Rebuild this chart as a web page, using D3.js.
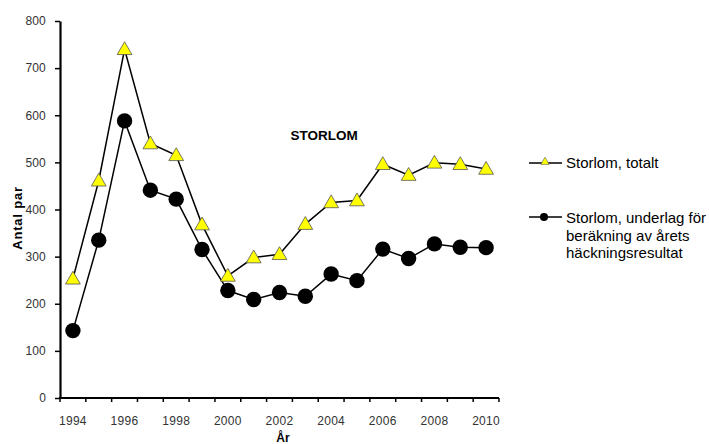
<!DOCTYPE html>
<html><head><meta charset="utf-8">
<script src="https://cdn.jsdelivr.net/npm/d3@7"></script>
<style>body{margin:0;background:#fff}svg{font-family:"Liberation Sans",Arial,sans-serif}</style>
</head><body><svg id="c" width="709" height="444"></svg>
<script>
const years = [1994,1995,1996,1997,1998,1999,2000,2001,2002,2003,2004,2005,2006,2007,2008,2009,2010];
const totalt = [253,461,740,540,515,368,259,298,305,369,415,419,496,473,499,496,486];
const underlag = [143,335,588,441,422,315,228,209,224,216,263,249,316,296,327,320,319];
const yTicks = [0,100,200,300,400,500,600,700,800];
const xTickLabels = [1994,1996,1998,2000,2002,2004,2006,2008,2010];
const seriesNames = ["Storlom, totalt", "Storlom, underlag för|beräkning av årets|häckningsresultat"];

const svg = d3.select("#c");
const x = d3.scaleBand().domain(years).range([60,499]).padding(0);
const y = d3.scaleLinear().domain([0,800]).range([398,21]);

// y axis
const ya = svg.append("g").attr("transform","translate(60,0)")
  .call(d3.axisLeft(y).tickValues(yTicks).tickSize(5).tickSizeOuter(0).tickPadding(9));
ya.select(".domain").attr("stroke","#000").attr("stroke-width",2.2);
ya.selectAll(".tick line").attr("stroke","#000").attr("stroke-width",1.5);
ya.selectAll(".tick text").attr("font-size",12).attr("fill","#333").attr("font-family","Liberation Sans, Arial").attr("letter-spacing",0.2);

// x axis
const boundaries = years.map(d=>x(d)).concat([x(years[years.length-1])+x.bandwidth()]);
const xa = svg.append("g");
xa.append("line").attr("x1",59).attr("x2",499).attr("y1",y(0)).attr("y2",y(0)).attr("stroke","#000").attr("stroke-width",2.2);
xa.selectAll("line.t").data(boundaries).enter().append("line").attr("class","t")
  .attr("x1",d=>d).attr("x2",d=>d).attr("y1",y(0)).attr("y2",y(0)+4).attr("stroke","#000").attr("stroke-width",1.5);
xa.selectAll("text").data(xTickLabels).enter().append("text")
  .attr("x",d=>x(d)+x.bandwidth()/2).attr("y",y(0)+27).attr("text-anchor","middle")
  .attr("font-size",12).attr("letter-spacing",0.3).attr("fill","#333").text(d=>d);

// axis titles
svg.append("text").attr("x",283).attr("y",442).attr("text-anchor","middle").attr("font-size",12).attr("font-weight","bold").text("År");
svg.append("text").attr("transform","translate(21.5,218) rotate(-90)").attr("text-anchor","middle").attr("font-size",13).attr("letter-spacing",0.8).attr("font-weight","bold").text("Antal par");
svg.append("text").attr("x",324).attr("y",140).attr("text-anchor","middle").attr("font-size",13.5).attr("font-weight","bold").text("STORLOM");

const cx = d=>x(d)+x.bandwidth()/2;
const line = d3.line().x((d,i)=>cx(years[i])).y(d=>y(d));
const tri = d3.symbol().type(d3.symbolTriangle).size(95);

svg.append("path").datum(totalt).attr("d",line).attr("fill","none").attr("stroke","#000").attr("stroke-width",1.5);
svg.append("path").datum(underlag).attr("d",line).attr("fill","none").attr("stroke","#000").attr("stroke-width",1.5);

svg.selectAll("circle.u").data(underlag).enter().append("circle").attr("class","u")
  .attr("cx",(d,i)=>cx(years[i])).attr("cy",d=>y(d)).attr("r",7.7).attr("fill","#000");
svg.selectAll("path.t").data(totalt).enter().append("path").attr("class","t")
  .attr("d",tri).attr("transform",(d,i)=>`translate(${cx(years[i])},${y(d)+1})`)
  .attr("fill","#ffff00").attr("stroke","#555").attr("stroke-width",0.8);

// legend
const lg = svg.append("g");
lg.append("line").attr("x1",529).attr("x2",562).attr("y1",163).attr("y2",163).attr("stroke","#000").attr("stroke-width",1.5);
lg.append("path").attr("d",d3.symbol().type(d3.symbolTriangle).size(30)).attr("transform","translate(545,162)").attr("fill","#ffff00").attr("stroke","#555").attr("stroke-width",0.6);
lg.append("text").attr("x",566).attr("y",167.5).attr("font-size",15).text(seriesNames[0]);
lg.append("line").attr("x1",529).attr("x2",562).attr("y1",217).attr("y2",217).attr("stroke","#000").attr("stroke-width",1.5);
lg.append("circle").attr("cx",544).attr("cy",217).attr("r",4).attr("fill","#000");
seriesNames[1].split("|").forEach((s,i)=>{
  lg.append("text").attr("x",566).attr("y",223.3+i*17.5).attr("font-size",15).text(s);
});
</script></body></html>
